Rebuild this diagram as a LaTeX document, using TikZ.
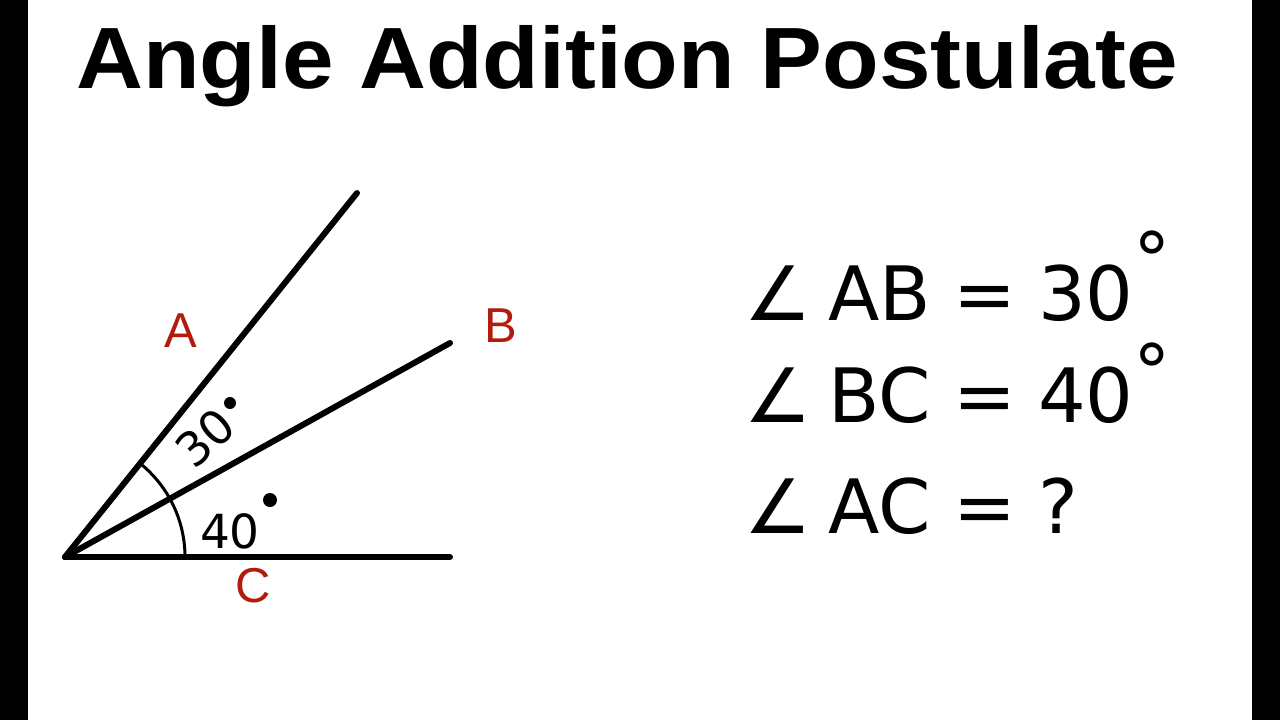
\documentclass[tikz,border=0pt]{standalone}
\usepackage{fontspec}
\setmainfont{Liberation Sans}
\newfontfamily\handfont{DejaVu Sans}
\usepackage{xcolor}
\definecolor{labelred}{RGB}{178,28,14}

\begin{document}
\begin{tikzpicture}[x=1pt,y=-1pt,
  ray/.style={line width=6pt, line cap=round},
  arcline/.style={line width=3pt},
  ptlabel/.style={text=labelred, font=\fontsize{49}{49}\selectfont, anchor=base, inner sep=0pt},
  hand/.style={font=\handfont\fontsize{75}{75}\selectfont, anchor=base, inner sep=0pt},
  handsmall/.style={font=\handfont\fontsize{47}{47}\selectfont, inner sep=0pt}]
% frame
\useasboundingbox (0,0) rectangle (1280,720);
\fill[white] (0,0) rectangle (1280,720);
\fill[black] (0,0) rectangle (28,720);
\fill[black] (1252,0) rectangle (1280,720);

\node[anchor=base, inner sep=0pt, font=\bfseries\fontsize{87}{87}\selectfont] (title) at (627,88) {\scalebox{1.065}[1]{Angle Addition Postulate}};

% the angle
\coordinate (V) at (65,557);
\coordinate (Aend) at (357,193);
\coordinate (Bend) at (450,343);
\coordinate (Cend) at (450,557);
\draw[ray] (V) -- (Aend);
\draw[ray] (V) -- (Bend);
\draw[ray] (V) -- (Cend);
\draw[arcline] (V) ++(-51.3:120) arc[start angle=-51.3, end angle=-29.1, radius=120];
\draw[arcline] (V) ++(-29.1:120) arc[start angle=-29.1, end angle=0, radius=120];

\node[ptlabel] (labA) at (181,347) {A};
\node[ptlabel] (labB) at (501,342) {B};
\node[ptlabel] (labC) at (253,602) {C};

\node[handsmall, rotate=42] (deg30) at (205,438) {30};
\fill (230,403) circle (6);
\node[handsmall] (deg40) at (230,531) {40};
\fill (270,500) circle (7);

% the equations
\foreach \row/\y/\pair/\val in {1/320/AB/30\raisebox{.45em}{°}, 2/422/BC/40\raisebox{.32em}{°}, 3/533/AC/?} {
  \node[hand] (ang\row) at (778,\y) {∠};
  \node[hand] (pair\row) at (880,\y) {\pair};
  \node[hand] (eq\row) at (985,\y) {=};
  \node[hand, anchor=base west] (val\row) at (1038,\y) {\val};
}
\end{tikzpicture}
\end{document}
